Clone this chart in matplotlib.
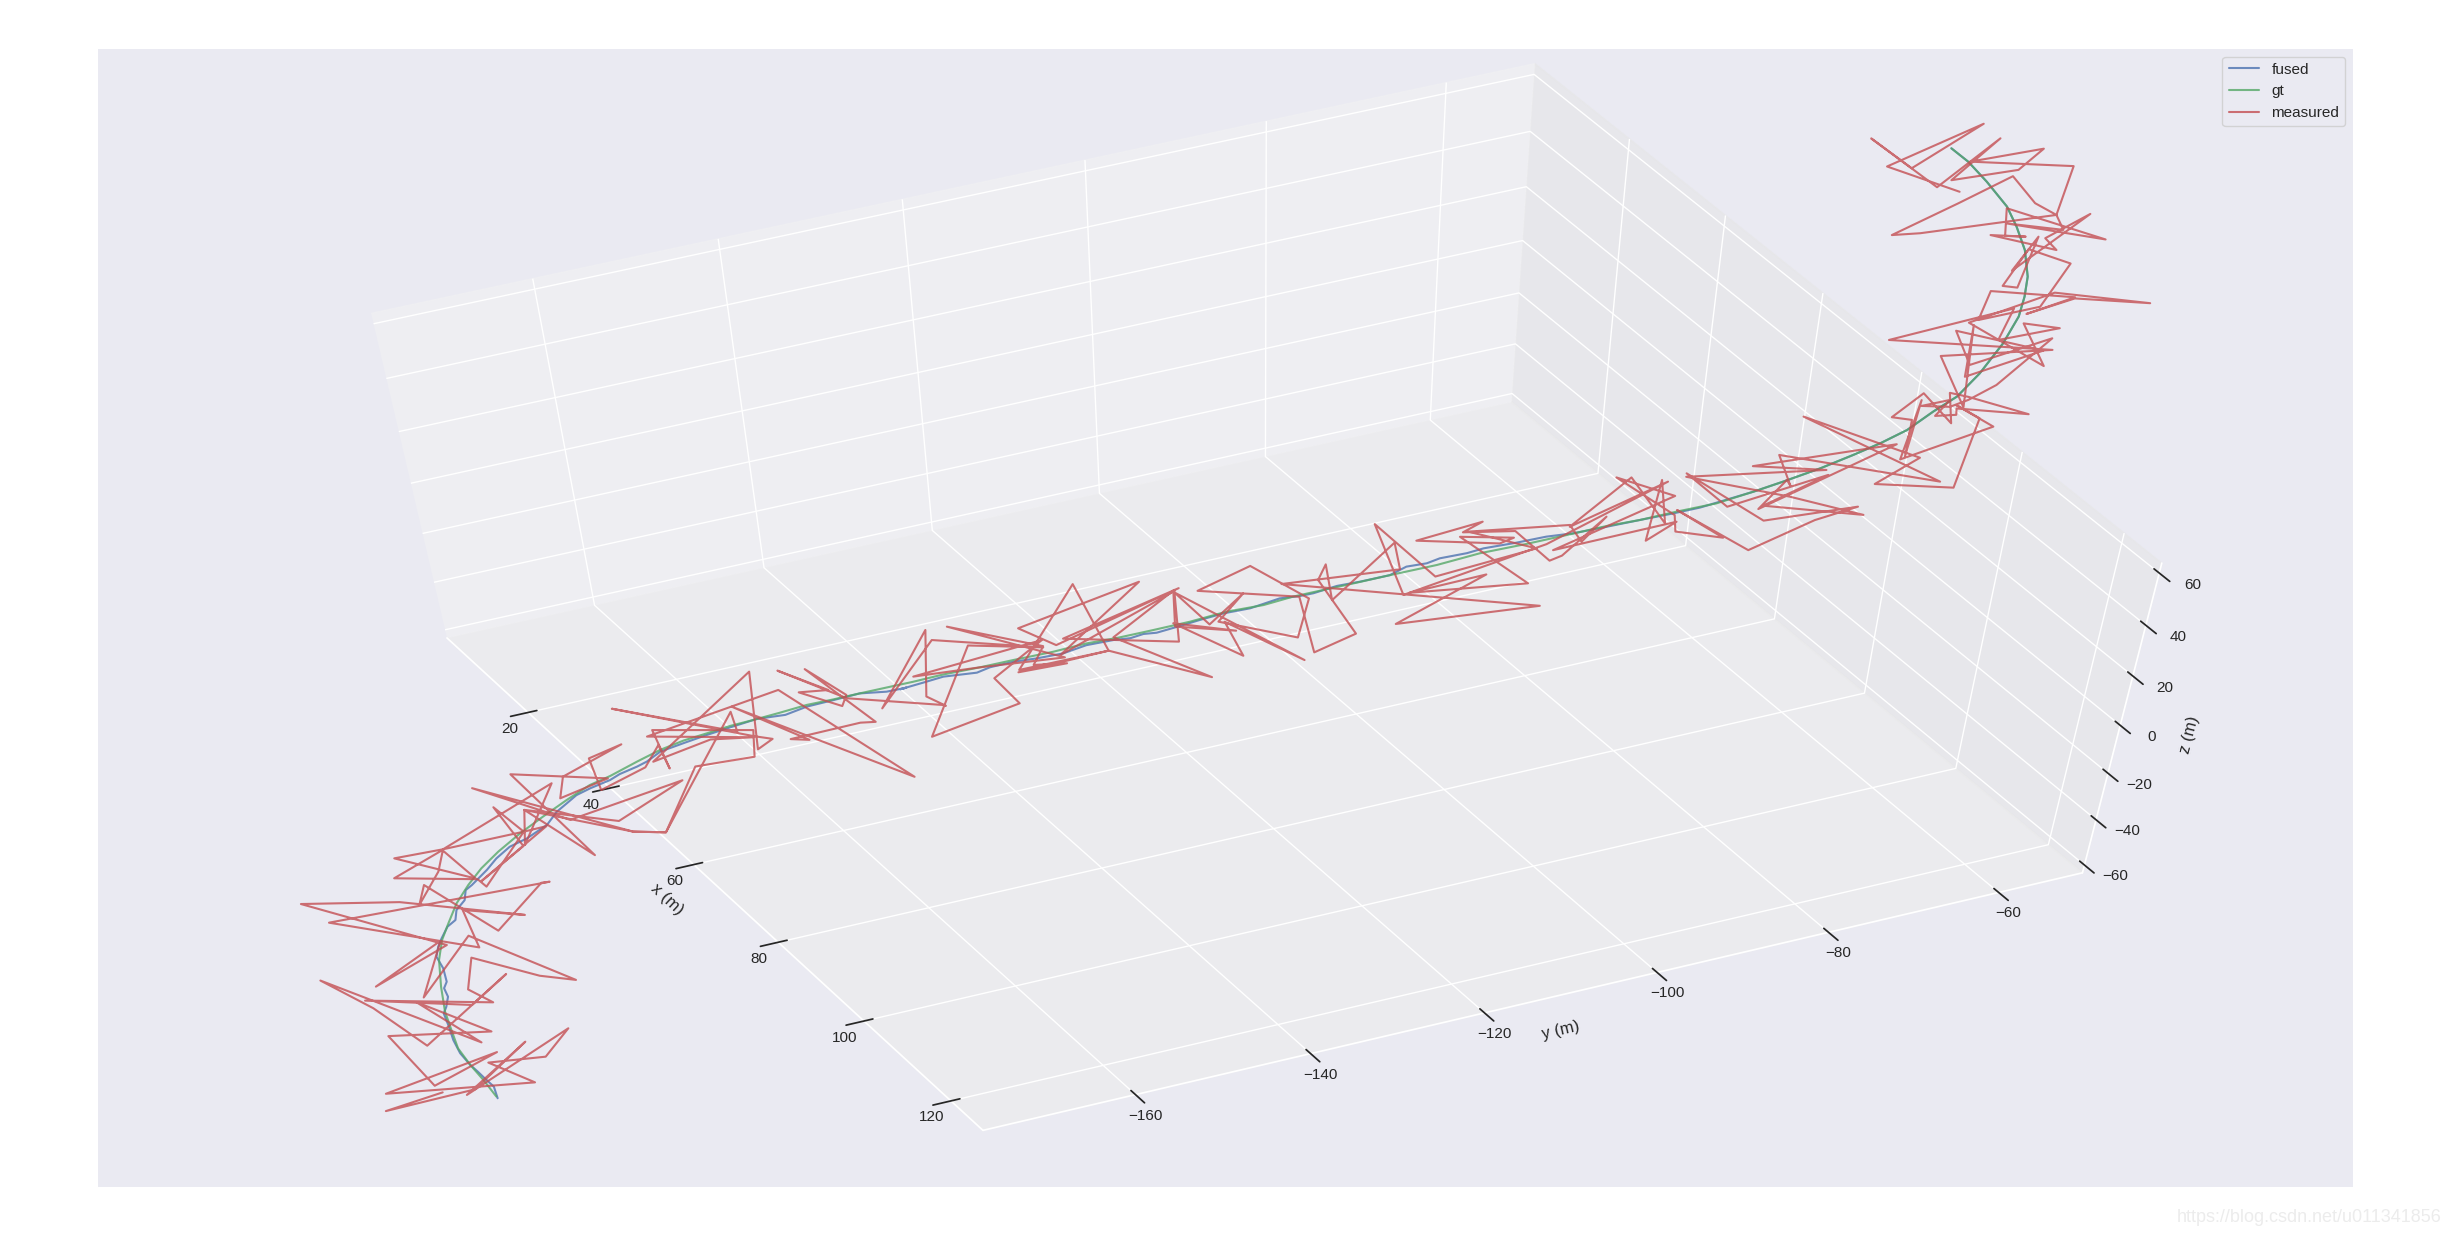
import numpy as np
import matplotlib
matplotlib.use('Agg')
import matplotlib.pyplot as plt
import seaborn as sns

sns.set()
plt.rcParams['font.family'] = ['Liberation Sans', 'DejaVu Sans']

x_ticks = [20, 40, 60, 80, 100, 120]
y_ticks = [-160, -140, -120, -100, -80, -60]
z_ticks = [-60, -40, -20, 0, 20, 40, 60]

# fused trajectory (m)
x_fused = [34,34,33,33,33,32,32,32,32,32,32,32,32,32,31,31,32,32,32,32,32,32,33,33,34,34,35,36,36,36,37,37,38,38,39,39,40,41,42,42,43,44,45,46,47,48,49,49,50,50,
           52,52,53,54,55,56,57,57,58,58,59,60,61,62,63,64,64,65,66,67,68,68,69,70,71,72,73,74,75,76,78,79,81,82,83,84,86,86,88,88,89,90,91,91,91,91,91,90,90,89,
           88]
y_fused = [-196.1,-196.2,-196.7,-197.3,-198.0,-198.5,-198.9,-199.0,-199.2,-198.7,-198.2,-198.4,-197.9,-197.9,-198.0,-197.5,-197.2,-196.2,-195.1,-194.7,-193.5,-193.1,
           -192.6,-190.5,-189.5,-187.7,-185.9,-183.7,-182.3,-181.0,-180.1,-178.4,-176.4,-175.2,-173.5,-172.3,-171.0,-168.7,-166.4,-163.6,-160.9,-158.1,-156.0,-153.4,
           -150.8,-148.2,-146.4,-147.1,-144.9,-142.6,-139.7,-138.2,-136.0,-133.8,-131.3,-129.1,-126.5,-124.6,-123.6,-122.1,-119.9,-118.2,-116.0,-113.5,-110.7,-108.9,
           -107.4,-105.3,-103.2,-100.4,-99.1,-96.8,-95.9,-93.4,-92.1,-89.0,-86.2,-83.7,-80.6,-77.4,-74.9,-72.5,-67.8,-65.2,-61.8,-58.9,-57.3,-54.5,
           -53.2,-50.8,-49.4,-48.1,-47.6,-47.4,-47.5,-48.4,-49.8,-50.6,-53.3,-55.0,-56.4]
z_fused = [-207.9,-201.6,-198.6,-194.6,-190.3,-185.6,-178.4,-171.5,-164.5,-161.6,-157.0,-152.6,-149.8,-143.2,-139.2,-134.8,-129.2,-124.5,-122.3,-117.9,-114.3,-109.9,
           -106.2,-101.0,-94.9,-91.1,-87.1,-81.2,-76.5,-73.9,-69.3,-67.7,-64.1,-62.5,-59.0,-57.8,-52.9,-49.6,-46.4,-45.4,-42.4,-41.4,-38.0,-35.8,
           -33.5,-33.3,-31.5,-31.6,-29.0,-28.4,-25.9,-24.9,-22.8,-21.6,-20.0,-16.8,-15.2,-16.0,-13.5,-14.2,-11.6,-9.0,-6.5,-4.9,-1.6,-0.5,
           -0.6,2.2,3.8,5.7,9.6,9.1,11.9,13.5,15.9,17.2,18.9,19.8,21.4,23.1,26.7,28.6,34.1,37.4,41.3,45.6,51.7,54.5,
           63.2,66.9,75.6,86.7,97.2,103.9,110.8,120.4,129.1,134.9,144.9,151.1,155.0]

# ground truth (m)
x_gt = [34,33,33,32,32,32,32,31,32,32,32,33,33,34,34,35,36,37,38,39,40,41,42,42,43,44,45,46,47,48,49,50,52,53,54,56,57,58,60,61,62,63,65,66,67,69,70,72,74,75,
        76,78,79,81,82,83,84,86,86,88,88,89,90,91,91,91,91,91,90,90,89,88]
y_gt = [-196.2,-196.9,-198.0,-198.6,-198.8,-199.0,-198.7,-197.8,-197.2,-196.0,-194.5,-193.0,-191.1,-189.1,-186.2,-183.6,-180.9,-178.4,-176.3,-173.4,-171.0,-168.6,
        -166.3,-163.6,-161.3,-158.7,-156.0,-153.4,-150.8,-147.4,-145.6,-142.6,-139.3,-136.0,-131.9,-129.1,-125.8,-122.5,-119.3,-115.7,-112.0,-109.2,-106.8,-103.6,
        -100.4,-96.2,-91.9,-87.8,-84.5,-80.6,-77.4,-74.5,-70.7,-67.8,-65.2,-61.8,-58.9,-57.3,-54.5,-53.2,-50.8,-49.4,-48.1,-47.6,-47.4,-47.5,
        -48.4,-49.8,-50.6,-53.3,-55.0,-56.4]
z_gt = [-206.9,-199.3,-190.3,-183.0,-174.1,-163.8,-151.5,-141.0,-130.0,-123.1,-114.9,-105.8,-99.8,-92.1,-86.3,-79.3,-72.4,-66.3,-62.4,-56.9,-52.2,-48.5,
        -45.7,-44.8,-42.5,-40.0,-37.3,-35.5,-33.5,-31.6,-29.7,-27.5,-24.0,-22.1,-20.4,-16.1,-14.7,-12.8,-8.8,-6.1,-4.8,-2.1,1.8,3.7,
        5.7,9.5,12.3,15.8,19.7,21.7,23.1,27.1,28.8,34.1,37.4,41.3,45.6,51.7,54.5,63.2,66.9,75.6,86.7,97.2,103.9,110.8,
        120.4,129.1,134.9,144.9,151.1,155.0]

# noisy measurements (m)
x_measured = [32,29,33,35,32,36,35,33,35,29,34,31,30,33,31,33,27,29,31,34,33,29,34,33,33,35,37,33,31,32,29,32,26,30,35,32,33,27,36,35,34,31,31,31,32,30,33,32,30,33,
              33,35,34,35,33,36,35,32,36,35,35,37,34,38,36,36,38,37,38,39,40,40,39,43,43,41,40,39,33,36,41,38,35,39,40,42,43,38,43,44,43,43,40,42,43,39,44,49,42,45,
              45,47,48,45,47,47,45,46,44,47,50,50,50,50,48,50,54,51,50,53,52,54,49,52,55,50,54,54,55,53,57,55,53,57,60,57,59,59,55,59,55,53,58,55,59,59,61,59,62,61,
              64,59,60,62,61,64,64,62,60,64,64,66,64,65,65,67,68,63,73,67,71,68,72,70,72,71,68,71,70,72,73,74,75,74,74,70,73,69,67,68,73,78,74,76,77,77,77,78,73,78,
              76,78,78,80,78,81,83,85,81,78,80,84,81,85,82,78,84,81,86,81,82,82,82,88,83,87,85,88,89,88,90,86,87,86,87,86,87,88,88,89,91,88,88,88,88,87,88,89,90,92,
              89,88,92,89,89,89,88,92,86,91,90,92,91,92,89,92,96,93,91,93,90,89,92,93,91,90,91,91,90,93,92,92,90,91,90,90,94,90,92,92,87,86,88,90,91,92,93,89,92,91,
              88,90,88,85,87,89,86,88]
y_measured = [-201.8,-208.2,-198.2,-191.5,-199.0,-186.4,-189.5,-195.8,-191.5,-207.6,-194.8,-202.2,-205.7,-194.5,-201.7,-196.0,-210.7,-206.2,-201.8,-191.5,-196.0,-206.9,
              -193.8,-196.0,-194.7,-188.0,-184.6,-194.4,-200.7,-197.4,-205.2,-196.8,-210.0,-200.2,-188.1,-194.0,-193.5,-207.8,-184.8,-185.4,-191.2,-197.3,-198.4,-195.3,
              -194.5,-199.5,-192.0,-194.6,-200.1,-191.8,-191.0,-186.1,-188.5,-186.5,-191.4,-183.8,-186.1,-194.5,-182.2,-186.3,-185.5,-179.4,-185.8,-176.6,-181.6,-180.8,
              -174.4,-177.9,-177.6,-172.6,-171.1,-170.3,-171.1,-161.5,-161.8,-167.8,-172.0,-175.3,-190.0,-181.0,-169.5,-176.3,-185.5,-175.3,-172.0,-163.3,-163.3,-174.7,
              -161.6,-159.9,-161.3,-161.0,-172.0,-166.0,-161.6,-171.8,-158.5,-146.5,-163.1,-156.2,-158.3,-151.1,-149.8,-155.7,-152.3,-152.9,-156.7,-153.8,-158.3,-152.3,
              -143.0,-142.6,-144.7,-144.1,-148.9,-143.5,-133.0,-140.0,-144.5,-135.6,-137.8,-133.1,-145.5,-139.3,-131.1,-141.7,-133.0,-134.2,-130.9,-135.5,-127.1,-129.8,
              -135.4,-127.1,-116.9,-126.5,-120.5,-120.1,-131.2,-120.0,-132.0,-135.2,-123.9,-131.6,-120.6,-120.5,-114.6,-120.7,-114.3,-115.9,-108.3,-120.5,-117.1,-114.3,
              -116.6,-109.1,-107.9,-113.5,-118.4,-109.0,-107.2,-103.5,-106.9,-106.6,-105.8,-100.0,-99.8,-110.5,-86.3,-99.5,-91.6,-98.6,-87.3,-94.3,-89.3,-90.3,
              -98.1,-92.4,-94.0,-89.2,-85.6,-84.8,-80.7,-82.7,-84.2,-93.4,-87.2,-96.3,-102.3,-99.3,-86.1,-75.9,-84.2,-78.9,-75.1,-76.0,-77.1,-74.4,
              -85.3,-74.9,-80.6,-74.7,-74.4,-70.0,-74.5,-67.5,-61.5,-58.0,-66.2,-73.9,-70.0,-61.4,-66.5,-57.2,-64.2,-73.9,-61.7,-68.3,-55.4,-67.0,
              -64.8,-64.3,-66.1,-50.9,-64.6,-53.1,-56.5,-49.2,-48.4,-50.7,-47.3,-54.7,-54.1,-54.2,-54.8,-56.5,-54.0,-50.9,-51.7,-50.2,-44.2,-50.6,
              -50.5,-52.9,-51.5,-54.0,-51.4,-50.1,-47.9,-44.0,-50.7,-52.3,-44.7,-51.0,-51.1,-50.5,-53.5,-43.7,-58.3,-48.3,-48.7,-43.4,-46.9,-44.3,
              -51.7,-44.8,-36.6,-43.1,-46.8,-43.1,-50.6,-50.7,-46.1,-44.4,-48.0,-49.4,-48.4,-47.2,-48.7,-43.4,-47.1,-45.6,-51.8,-48.6,-50.2,-50.6,
              -41.8,-50.3,-45.3,-46.4,-57.5,-59.9,-54.6,-50.6,-48.3,-46.4,-46.3,-54.8,-49.2,-50.8,-55.8,-52.7,-57.2,-63.1,-59.6,-54.1,-61.6,-54.7]
z_measured = [-203.0,-212.5,-203.0,-180.7,-207.1,-176.8,-190.4,-191.2,-202.0,-203.8,-184.8,-201.0,-173.6,-176.3,-158.3,-180.5,-146.4,-160.8,-180.4,-148.3,-161.4,-156.3,
              -160.3,-153.6,-139.1,-150.6,-152.2,-128.7,-156.9,-130.2,-150.9,-132.8,-111.8,-112.7,-120.9,-118.5,-135.2,-120.9,-106.4,-108.1,-127.4,-105.5,-113.9,-101.0,
              -89.7,-92.9,-103.7,-90.0,-101.6,-104.2,-108.4,-83.9,-72.5,-90.1,-105.4,-81.7,-83.9,-89.7,-63.9,-89.8,-74.6,-97.1,-60.2,-63.2,-71.1,-62.2,
              -50.2,-55.0,-67.5,-60.1,-50.0,-60.9,-45.2,-46.7,-58.0,-60.5,-88.0,-86.5,-64.4,-81.3,-65.1,-82.5,-74.6,-86.5,-88.0,-39.0,-45.9,-34.7,
              -49.2,-50.2,-55.2,-22.4,-56.5,-48.6,-49.7,-47.4,-30.5,-69.9,-37.0,-52.1,-50.0,-45.7,-44.8,-22.5,-32.9,-37.1,-31.4,-31.2,-22.6,-34.3,
              -40.0,-40.7,-35.0,-7.9,-39.8,-12.5,-17.7,-16.0,-52.4,-40.6,-29.8,-14.6,-27.6,-24.0,-21.8,-8.5,-17.2,-24.0,-24.4,-27.6,-19.1,6.9,
              -26.7,-19.1,-33.7,-14.1,3.4,-17.9,-14.0,3.7,-16.0,-9.7,7.8,-20.4,2.8,-11.4,-14.7,-9.9,-23.7,-10.0,-27.2,2.4,-11.7,1.7,
              -9.4,-17.2,-2.3,12.0,2.9,-0.7,-24.9,-17.0,4.3,11.8,-3.1,18.2,9.1,4.0,-8.5,-14.7,5.2,-1.2,-0.2,20.6,19.4,16.4,
              19.0,26.5,22.1,21.9,9.0,11.9,25.4,15.7,23.4,21.9,15.1,5.0,27.2,-1.5,15.9,39.6,22.7,40.5,21.5,38.8,16.3,23.1,
              12.9,33.4,41.8,25.9,19.3,16.5,27.7,11.2,21.3,26.8,21.7,41.2,28.5,40.0,27.7,23.0,30.9,39.9,42.1,44.1,49.9,26.8,
              37.7,35.1,48.1,35.4,62.6,44.6,34.3,31.8,58.6,63.7,56.2,43.7,66.6,44.4,59.9,60.7,69.0,57.2,68.9,67.8,59.9,62.4,
              60.0,61.4,66.2,64.4,63.6,66.6,71.8,88.4,79.6,91.4,84.6,75.6,93.9,64.2,83.4,84.1,89.7,100.5,88.4,91.5,94.3,78.8,
              95.2,104.8,100.9,103.0,97.5,103.4,106.7,95.4,100.9,115.8,120.4,107.6,107.7,124.0,112.3,131.6,124.8,119.8,126.4,125.0,125.0,134.4,
              123.4,129.2,126.3,132.0,126.9,126.6,136.1,144.8,135.8,132.0,149.1,151.0,155.3,148.3,144.4,158.3,143.1,158.7,149.5,162.5,150.1,139.9]

W, H = 2451, 1236
fig = plt.figure(figsize=(W/100, H/100), dpi=100)
ax = fig.add_axes([98/W, 1-1187/H, (2353-98)/W, (1187-49)/H], projection='3d')
# let the cube stretch with the axes rectangle, no square box
ax.apply_aspect = lambda position=None: None
ax.set_box_aspect((1, 1, 1), zoom=np.sqrt(3)/(1.8294640721620434*25/24)*1.042)
ax.view_init(60.383, -27.108)

ax.plot(x_fused, y_fused, z_fused, color='b', alpha=0.8, label='fused')
ax.plot(x_gt, y_gt, z_gt, color='g', alpha=0.8, label='gt')
ax.plot(x_measured, y_measured, z_measured, color='r', alpha=0.8, label='measured')

ax.set_xlim(0.0, 127.3, view_margin=0)
ax.set_ylim(-177.3, -50.1, view_margin=0)
ax.set_zlim(-63.5, 63.75, view_margin=0)
ax.set_xticks(x_ticks)
ax.set_yticks(y_ticks)
ax.set_zticks(z_ticks)
ax.set_xlabel('x (m)')
ax.set_ylabel('y (m)')
ax.set_zlabel('z (m)')
ax.legend()

# image host watermark
fig.text(2442/W, 1-1217/H, 'https://blog.csdn.net/u011341856', color='#ececec', fontsize=13, ha='right', va='center')
fig.savefig('out.png', dpi=100)
